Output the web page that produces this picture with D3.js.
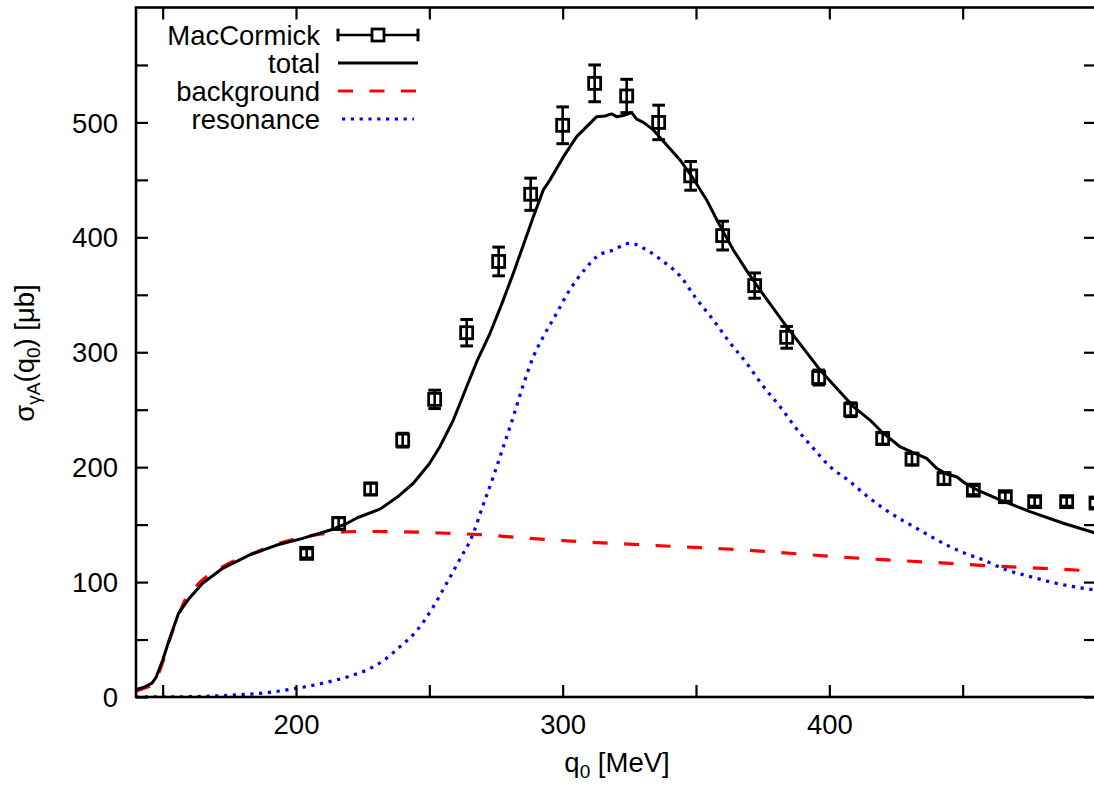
<!DOCTYPE html>
<html>
<head>
<meta charset="utf-8">
<script src="https://cdn.jsdelivr.net/npm/d3@7"></script>
<style>
  html, body { margin: 0; padding: 0; background: #fff; }
  svg { display: block; }
  text { font-family: "Liberation Sans", Arial, Helvetica, sans-serif; fill: #000; }
</style>
</head>
<body>
<svg id="chart" width="1094" height="785"></svg>
<script>
// MacCormick measurements: photon energy q0 [MeV], cross section [μb], error [μb]
const dataQ     = [204, 216, 228, 240, 252, 264, 276, 288, 300, 312, 324, 336, 348,
                   360, 372, 384, 396, 408, 420, 431, 443, 454, 466, 477, 489, 500];
const dataSigma = [125, 151, 181, 223.5, 259, 317, 379, 437.5, 497.5, 534, 523, 500, 453.5,
                   401.5, 358, 313, 278, 250, 225, 207, 190, 180, 174.3, 170, 170, 168.8];
const dataErr   = [4, 5, 5, 6, 8, 11.5, 12.5, 14, 16, 16, 14.5, 15, 12.5,
                   12.5, 11, 9.5, 6.5, 6, 5, 5, 5, 4, 4, 4, 4, 4];

// model: total cross section
const totalQ     = [140, 143, 146, 147.5, 150, 152.5, 156, 160, 165, 172.5, 182.5, 192.5, 202.5,
                    213.8, 219, 223, 231.5, 238, 244, 250, 254, 259, 264, 268, 272.75, 277,
                    281.5, 284.6, 289, 292.75, 295.25, 300.25, 305.25, 309, 312.75, 315.9, 318.4,
                    320.25, 322.75, 325.9, 327.75, 330.25, 334, 338, 344, 349, 354, 359, 364,
                    369, 374, 384, 396.5, 409, 415.25, 420, 426.5, 431, 436.5, 440.25, 444,
                    447.75, 450.9, 456, 464, 475.25, 487.75, 500];
const totalSigma = [6.5, 8.5, 12, 17, 32, 50, 73, 86, 99, 112, 123.5, 132, 138,
                    146, 151, 156, 163.5, 174, 186, 203, 218, 241, 270, 293, 316.5, 341,
                    368.8, 389, 418, 441.3, 450, 470, 487.6, 496.3, 505, 505.6, 507.4,
                    505, 506, 508.5, 502.8, 500, 493.5, 483, 467.4, 451, 432.5, 410, 389,
                    371, 354.2, 322.3, 284.6, 252.7, 241, 230, 217.8, 213, 207.7, 199, 194,
                    191.7, 186, 179.5, 171.5, 161.3, 151.2, 142.5];

// model: background contribution
const bgQ     = [140, 143, 146, 148, 150, 152.5, 155, 158.75, 162, 165, 170, 177.5, 185, 190,
                 202.5, 212.5, 222, 232, 245, 256.5, 269, 285, 306.5, 325, 344, 360, 380,
                 400, 420, 440, 461.5, 480, 500];
const bgSigma = [5, 7.5, 11, 18, 30, 49, 65, 86, 95, 102, 110, 119.2, 126, 130.8,
                 139, 142.5, 144, 144, 143.5, 142.5, 141.3, 138.5, 135.2, 133, 130.8, 129, 126,
                 122.5, 119.5, 117, 114, 112, 109.5];

// model: resonance contribution
const resQ     = [140, 160, 176.5, 190, 200, 210, 220, 226.5, 233, 239, 245, 251.5, 256.5, 261,
                  266.5, 270, 274, 277.5, 281.5, 285, 289, 292.75, 297.75, 301.5, 305.25, 309,
                  312.75, 319, 325.25, 331.5, 337.75, 344, 350, 356.5, 362.5, 369, 375, 381.5,
                  387.5, 394, 400, 407.75, 414, 420.25, 426.5, 432.75, 439, 445.25, 451.5,
                  457.75, 466.5, 475, 485, 500];
const resSigma = [0, 0.3, 1.7, 4, 7.5, 12, 18, 23.5, 32, 43.8, 57, 78.6, 99, 118,
                  142.5, 166, 191.7, 216, 244, 270, 296, 313.6, 334, 350, 363, 374,
                  383.2, 389, 394.9, 389, 378.9, 366.5, 347, 328, 309, 290.4, 271, 252.7,
                  234, 216.4, 201, 187.4, 175, 164.2, 155, 146.8, 138.5, 130.8, 124.5,
                  119.2, 110.5, 105, 99, 93];

// axis ticks
const xTickValues = [150, 200, 250, 300, 350, 400, 450];
const xTickLabels = ["", "200", "", "300", "", "400", ""];
const yTickValues = [0, 50, 100, 150, 200, 250, 300, 350, 400, 450, 500, 550];
const yTickLabels = ["0", "", "100", "", "200", "", "300", "", "400", "", "500", ""];

// legend entries
const legendLabels = ["MacCormick", "total", "background", "resonance"];

const svg = d3.select("#chart");
const FONT = 27.5;
const SUB = 19;

const x = d3.scaleLinear().domain([140, 500]).range([136, 1096]);
const y = d3.scaleLinear().domain([0, 600]).range([697, 7.5]);

const plotLeft = x.range()[0], plotRight = x.range()[1];
const plotTop = y.range()[1], plotBottom = y.range()[0];

// clip region for curves
svg.append("defs").append("clipPath").attr("id", "plotClip")
  .append("rect")
  .attr("x", plotLeft).attr("y", plotTop)
  .attr("width", plotRight - plotLeft).attr("height", plotBottom - plotTop);

const zip = (qs, vs) => qs.map((q, i) => ({ q, v: vs[i] }));

const line = d3.line().x(d => x(d.q)).y(d => y(d.v));
const smooth = d3.line().x(d => x(d.q)).y(d => y(d.v)).curve(d3.curveMonotoneX);

const curves = svg.append("g").attr("clip-path", "url(#plotClip)");

curves.append("path")
  .datum(zip(resQ, resSigma))
  .attr("d", smooth)
  .attr("fill", "none")
  .attr("stroke", "#0000ff")
  .attr("stroke-width", 3.2)
  .attr("stroke-dasharray", "3.2,5.6");

curves.append("path")
  .datum(zip(bgQ, bgSigma))
  .attr("d", smooth)
  .attr("fill", "none")
  .attr("stroke", "#ff0000")
  .attr("stroke-width", 3.2)
  .attr("stroke-dasharray", "15,16.5");

curves.append("path")
  .datum(zip(totalQ, totalSigma))
  .attr("d", line)
  .attr("fill", "none")
  .attr("stroke", "#000")
  .attr("stroke-width", 3)
  .attr("stroke-linejoin", "round");

// data points with error bars
const pts = svg.append("g");
const data = dataQ.map((q, i) => ({ q, v: dataSigma[i], e: dataErr[i] }));
const capHalf = 6.3, boxSize = 12;
const pg = pts.selectAll("g.pt").data(data).join("g").attr("class", "pt");
pg.append("line")
  .attr("x1", d => x(d.q)).attr("x2", d => x(d.q))
  .attr("y1", d => y(d.v - d.e)).attr("y2", d => y(d.v + d.e))
  .attr("stroke", "#000").attr("stroke-width", 2.6);
pg.append("line")
  .attr("x1", d => x(d.q) - capHalf).attr("x2", d => x(d.q) + capHalf)
  .attr("y1", d => y(d.v + d.e)).attr("y2", d => y(d.v + d.e))
  .attr("stroke", "#000").attr("stroke-width", 3);
pg.append("line")
  .attr("x1", d => x(d.q) - capHalf).attr("x2", d => x(d.q) + capHalf)
  .attr("y1", d => y(d.v - d.e)).attr("y2", d => y(d.v - d.e))
  .attr("stroke", "#000").attr("stroke-width", 3);
pg.append("rect")
  .attr("x", d => x(d.q) - boxSize / 2).attr("y", d => y(d.v) - boxSize / 2)
  .attr("width", boxSize).attr("height", boxSize)
  .attr("fill", "none").attr("stroke", "#000").attr("stroke-width", 2.8);

// axes with inward ticks on all four sides
function styleAxis(g) {
  g.select(".domain").remove();
  g.selectAll(".tick line").attr("stroke", "#000").attr("stroke-width", 2.2);
  g.selectAll(".tick text").attr("font-size", FONT).attr("fill", "#000")
    .attr("font-family", null);
}

svg.append("g")
  .attr("transform", `translate(0,${plotBottom})`)
  .call(d3.axisBottom(x).tickValues(xTickValues)
    .tickFormat((d, i) => xTickLabels[i]).tickSizeInner(-12).tickSizeOuter(0).tickPadding(17))
  .call(styleAxis);

svg.append("g")
  .attr("transform", `translate(0,${plotTop})`)
  .call(d3.axisTop(x).tickValues(xTickValues).tickFormat("").tickSizeInner(-12).tickSizeOuter(0))
  .call(styleAxis);

svg.append("g")
  .attr("transform", `translate(${plotLeft},0)`)
  .call(d3.axisLeft(y).tickValues(yTickValues)
    .tickFormat((d, i) => yTickLabels[i]).tickSizeInner(-12).tickSizeOuter(0).tickPadding(18))
  .call(styleAxis)
  .call(g => g.selectAll(".tick text").attr("dy", "0.35em"));

svg.append("g")
  .attr("transform", `translate(${plotRight},0)`)
  .call(d3.axisRight(y).tickValues(yTickValues).tickFormat("").tickSizeInner(-12).tickSizeOuter(0))
  .call(styleAxis);

// frame
svg.append("rect")
  .attr("x", plotLeft).attr("y", plotTop)
  .attr("width", plotRight - plotLeft).attr("height", plotBottom - plotTop)
  .attr("fill", "none").attr("stroke", "#000").attr("stroke-width", 2.6);

// axis titles
const xt = svg.append("text")
  .attr("x", 617).attr("y", 772)
  .attr("text-anchor", "middle")
  .attr("font-size", FONT);
xt.append("tspan").text("q");
xt.append("tspan").attr("font-size", SUB).attr("dy", 6).text("0");
xt.append("tspan").attr("dy", -6).text(" [MeV]");

const yt = svg.append("text")
  .attr("transform", "translate(34,353) rotate(-90)")
  .attr("text-anchor", "middle")
  .attr("font-size", FONT);
yt.append("tspan").text("σ");
yt.append("tspan").attr("font-size", SUB).attr("dy", 6).text("γA");
yt.append("tspan").attr("dy", -6).text("(q");
yt.append("tspan").attr("font-size", SUB).attr("dy", 6).text("0");
yt.append("tspan").attr("dy", -6).text(") [μb]");

// legend
const legY = [35, 63, 91, 119];
const legTextX = 320, legX1 = 338, legX2 = 418;
const leg = svg.append("g");
legendLabels.forEach((lab, i) => {
  leg.append("text")
    .attr("x", legTextX).attr("y", legY[i] + 9.8)
    .attr("text-anchor", "end")
    .attr("font-size", FONT)
    .text(lab);
});
// MacCormick sample: horizontal bar with caps and box
leg.append("line").attr("x1", legX1).attr("x2", legX2).attr("y1", legY[0]).attr("y2", legY[0])
  .attr("stroke", "#000").attr("stroke-width", 2.6);
[legX1, legX2].forEach(cx => leg.append("line")
  .attr("x1", cx).attr("x2", cx).attr("y1", legY[0] - 6.3).attr("y2", legY[0] + 6.3)
  .attr("stroke", "#000").attr("stroke-width", 3));
leg.append("rect")
  .attr("x", (legX1 + legX2) / 2 - boxSize / 2).attr("y", legY[0] - boxSize / 2)
  .attr("width", boxSize).attr("height", boxSize)
  .attr("fill", "#fff").attr("stroke", "#000").attr("stroke-width", 2.8);
leg.append("line").attr("x1", legX1).attr("x2", legX2).attr("y1", legY[1]).attr("y2", legY[1])
  .attr("stroke", "#000").attr("stroke-width", 3);
leg.append("line").attr("x1", legX1).attr("x2", legX2).attr("y1", legY[2]).attr("y2", legY[2])
  .attr("stroke", "#ff0000").attr("stroke-width", 3.2).attr("stroke-dasharray", "15,16.5");
leg.append("line").attr("x1", legX1 + 4).attr("x2", legX2 - 4).attr("y1", legY[3]).attr("y2", legY[3])
  .attr("stroke", "#0000ff").attr("stroke-width", 3.2).attr("stroke-dasharray", "3.2,5.6");
</script>
</body>
</html>
